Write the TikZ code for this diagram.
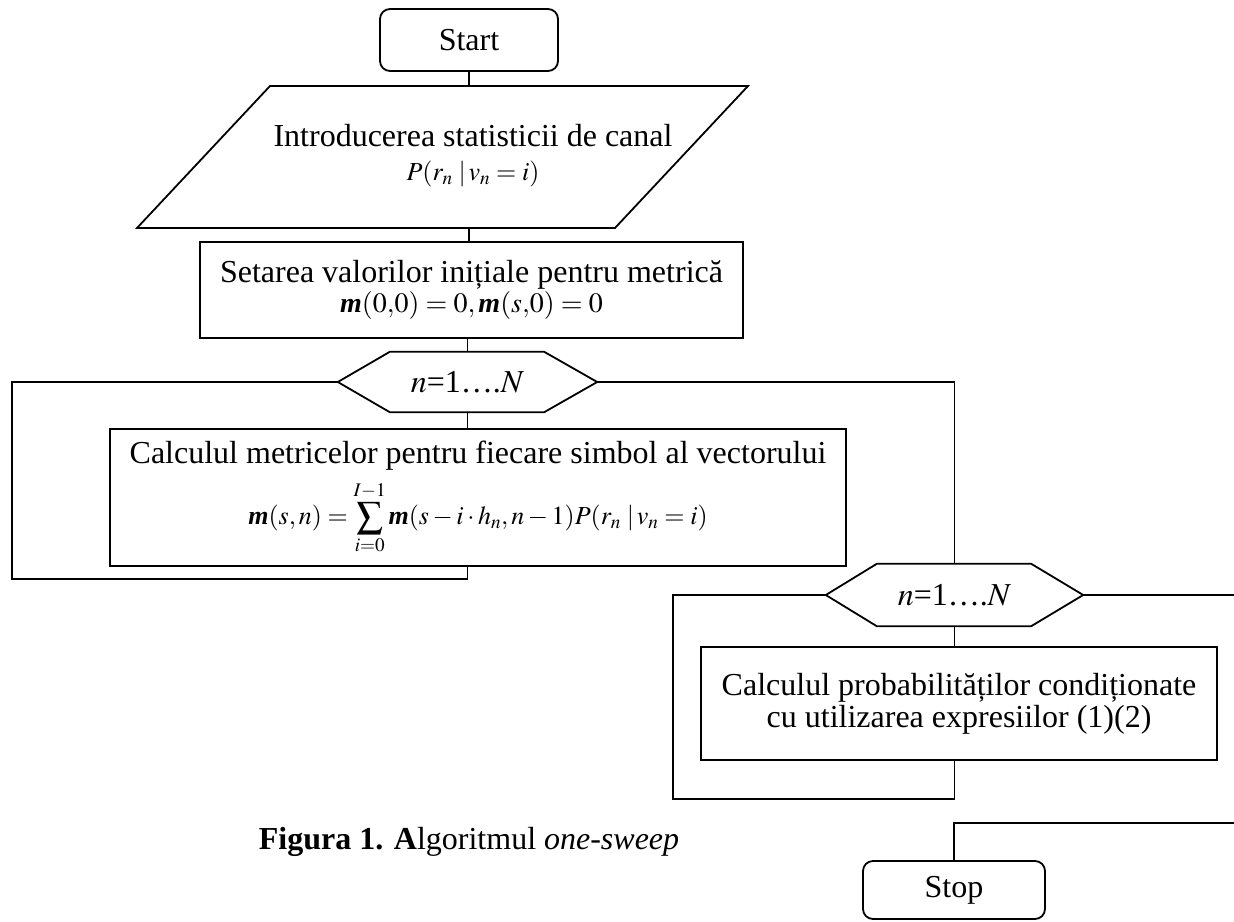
\documentclass[tikz,border=0pt]{standalone}
\usepackage{mathptmx}
\usepackage{fontspec}
\setmainfont{Liberation Serif}
\newcommand{\mbm}{\mbox{\bfseries\itshape m}}
\newcommand{\fml}{\fontsize{28}{32}\selectfont}
\begin{document}
\begin{tikzpicture}[x=1pt,y=-1pt,
  every node/.style={font=\fontsize{32}{36}\selectfont, inner sep=0pt},
  cline/.style={draw, line width=1.8pt},
  termbox/.style={draw, line width=1.8pt, rounded corners=10pt, minimum width=178pt, minimum height=62pt},
  procbox/.style={draw, line width=1.8pt, align=center},
  hexbox/.style={minimum height=60pt}
]
\useasboundingbox (0,0) rectangle (1234,921);

% Start
\node[termbox] (start) at (469,40) {Start};

% input parallelogram
\coordinate (pTL) at (270,86);
\coordinate (pTR) at (748,86);
\coordinate (pBR) at (615,228);
\coordinate (pBL) at (137,228);
\path[cline] (pTL) -- (pTR) -- (pBR) -- (pBL) -- cycle;
\node[align=center] (in) at (473,156) {Introducerea statisticii de canal\\[-2pt]
  {\fontsize{26}{28}\selectfont $P(r_n\;|\,v_n=i)$}};

% init box
\node[procbox, minimum width=543pt, minimum height=96pt] (init) at (471.5,290)
  {Setarea valorilor inițiale pentru metrică\\[-6pt]
   {\fml $\mbm(0{,}0)=0,\mbm(s{,}0)=0$}};

% loop 1 hexagon
\node[hexbox, minimum width=259pt] (h1) at (467.5,382) {$n$=1….$N$};
\path[cline] (h1.west) -- ([xshift=52pt]h1.north west) -- ([xshift=-53pt]h1.north east)
  -- (h1.east) -- ([xshift=-53pt]h1.south east) -- ([xshift=52pt]h1.south west) -- cycle;

% metric box
\node[procbox, minimum width=736pt, minimum height=137pt] (metr) at (478,497.5)
  {Calculul metricelor pentru fiecare simbol al vectorului\\[10pt]
   {\fontsize{26}{30}\selectfont $\displaystyle \mbm(s,n)=\sum_{i=0}^{I-1}\mbm(s-i\cdot h_n,n-1)P(r_n\;|\,v_n=i)$}};

% loop 2 hexagon
\node[hexbox, minimum width=257pt, minimum height=62pt] (h2) at (954.5,595) {$n$=1….$N$};
\path[cline] (h2.west) -- ([xshift=51pt]h2.north west) -- ([xshift=-52pt]h2.north east)
  -- (h2.east) -- ([xshift=-52pt]h2.south east) -- ([xshift=51pt]h2.south west) -- cycle;

% probability box
\node[procbox, minimum width=516pt, minimum height=113pt] (prob) at (959,703.5)
  {Calculul probabilităților condiționate\\[-4pt] cu utilizarea expresiilor (1)(2)};

% Stop
\node[termbox, minimum width=182pt, minimum height=58pt] (stop) at (954,890) {Stop};

% caption
\node (cap) at (469,842) {{\bfseries Figura 1. A}lgoritmul \textit{one-sweep}};

% connectors
\coordinate (L1) at (12,579);
\coordinate (L2) at (673,799);
\coordinate (E1) at (1234,595);
\coordinate (E2) at (1234,823);
\path[cline] (start.south) -- (start.south |- pTL);
\path[cline] (start.south |- pBL) -- (start.south |- init.north);
\path[cline] (h1.north |- init.south) -- (h1.north);
\path[cline] (h1.south) -- (h1.south |- metr.north);
\path[cline] (h1.west) -| (L1) -| (h1.south |- metr.south);
\path[cline] (h1.east) -| (h2.north);
\path[cline] (h2.south) -- (h2.south |- prob.north);
\path[cline] (h2.west) -| (L2) -| (h2.south |- prob.south);
\path[cline] (h2.east) -- (E1);
\path[cline] (E2) -| (stop.north);
\end{tikzpicture}
\end{document}
